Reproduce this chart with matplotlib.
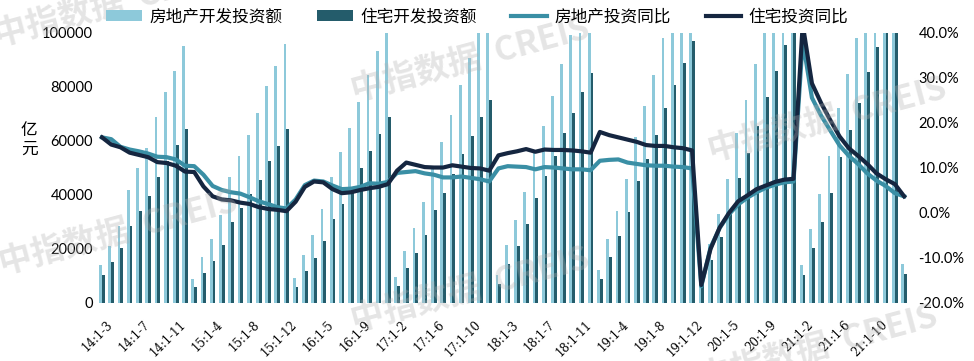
import numpy as np
import matplotlib.pyplot as plt
import matplotlib.transforms as mtransforms
from matplotlib.ticker import FuncFormatter

# periods: 14:1-3 ... 22:1-2 (Jan-Feb reported together)
periods = ['14:1-%d' % m for m in range(3, 13)]
for yr in range(15, 22):
    periods += ['%d:1-%d' % (yr, m) for m in range(2, 13)]
periods += ['22:1-2']

# 房地产开发投资额 (亿元), cumulative
re_inv = [14210, 21006, 28339, 42019, 50054, 57454, 68751, 78019, 86013, 95036,
          8786, 16914, 23669, 32632, 46489, 54370, 62204, 70535, 80354, 87702, 95979,
          9194, 17677, 25186, 34976, 46631, 55931, 64870, 74598, 84535, 93387, 102581,
          9478, 19292, 27732, 37485, 50610, 59761, 69694, 80644, 90544, 100387, 109799,
          10357, 21292, 30592, 40957, 55531, 65489, 76519, 88454, 99325, 110083, 120264,
          12090, 23803, 34217, 46075, 61609, 72843, 84589, 98008, 109603, 121265, 132194,
          10115, 21963, 33103, 45920, 62780, 75325, 88454, 103484, 116556, 129492, 141443,
          13986, 27576, 40240, 54318, 72179, 84895, 98060, 112568, 124934, 137086, 147602,
          14499]

# 住宅开发投资额 (亿元)
res_inv = [10300, 15000, 20500, 28567, 33885, 39500, 46577, 52658, 58400, 64352,
           5874, 11170, 15565, 21306, 30038, 35130, 40202, 45539, 52500, 58000, 64595,
           6000, 11700, 16600, 22900, 31008, 36800, 43100, 50000, 56300, 62600, 68704,
           6400, 12800, 18600, 25300, 34300, 40706, 47700, 55200, 61900, 68900, 75148,
           7100, 14600, 21100, 29200, 39000, 47000, 54400, 63000, 70400, 78100, 85192,
           8700, 17100, 24900, 33800, 45167, 53492, 62200, 72200, 80700, 89000, 97071,
           7318, 16000, 24300, 34010, 46350, 55606, 65454, 76359, 86000, 95619, 104446,
           10200, 20500, 30100, 40900, 54244, 64105, 74179, 85410, 94889, 104232, 111173,
           10600]

# 房地产投资同比 (%)
re_yoy = [16.8, 16.4, 14.7, 14.1, 13.7, 13.2, 12.5, 12.4, 11.9, 10.5,
          10.4, 8.5, 6.0, 5.1, 4.6, 4.3, 3.5, 2.6, 2.0, 1.3, 1.0,
          3.0, 6.2, 7.2, 7.0, 6.1, 5.3, 5.4, 5.8, 6.6, 6.5, 6.9,
          8.9, 9.1, 9.3, 8.8, 8.5, 7.9, 7.9, 8.1, 7.8, 7.5, 7.0,
          9.9, 10.4, 10.3, 10.2, 9.7, 10.2, 10.1, 9.9, 9.7, 9.7, 9.5,
          11.6, 11.8, 11.9, 11.2, 10.9, 10.6, 10.5, 10.5, 10.3, 10.2, 9.9,
          -16.3, -7.7, -3.3, -0.3, 1.9, 3.4, 4.6, 5.6, 6.3, 6.8, 7.0,
          38.3, 25.6, 21.6, 18.3, 15.0, 12.7, 10.9, 8.8, 7.2, 6.0, 4.4,
          3.7]

# 住宅投资同比 (%)
res_yoy = [16.8, 15.2, 14.6, 13.4, 12.9, 12.4, 11.3, 11.1, 10.5, 9.2,
           9.1, 5.9, 3.7, 3.0, 2.8, 2.3, 2.0, 1.3, 0.9, 0.7, 0.4,
           2.5, 5.8, 7.0, 6.8, 5.3, 4.4, 4.6, 5.1, 5.5, 5.8, 6.4,
           9.4, 11.2, 10.7, 10.2, 10.1, 10.1, 10.6, 10.3, 10.0, 9.9, 9.4,
           12.8, 13.3, 13.7, 14.2, 13.6, 14.1, 14.0, 14.0, 13.9, 13.7, 13.4,
           18.0, 17.3, 16.8, 16.3, 15.8, 15.1, 14.9, 14.9, 14.6, 14.4, 13.9,
           -16.0, -8.0, -3.2, 0.0, 2.6, 3.9, 5.3, 6.1, 6.9, 7.4, 7.6,
           41.9, 28.8, 24.4, 20.6, 17.0, 14.4, 12.7, 10.9, 8.8, 7.5, 6.4,
           3.7]

legend_names = ['房地产开发投资额', '住宅开发投资额', '房地产投资同比', '住宅投资同比']

c_light = '#8DC9DA'
c_dark = '#245C6B'
c_teal = '#3A8FA5'
c_navy = '#152640'
cjk = ['Noto Sans CJK SC', 'DejaVu Sans']

fig = plt.figure(figsize=(9.74, 3.61), dpi=100)
ax = fig.add_axes([0.100, 0.1607, 0.833, 0.748])
ax2 = ax.twinx()

x = np.arange(len(periods))
w = 0.3
b1 = ax.bar(x - w / 2, re_inv, w, color=c_light, label=legend_names[0])
b2 = ax.bar(x + w / 2, res_inv, w, color=c_dark, label=legend_names[1])

l1, = ax2.plot(x, re_yoy, color=c_teal, lw=3, solid_joinstyle='round', label=legend_names[2])
l2, = ax2.plot(x, res_yoy, color=c_navy, lw=3, solid_joinstyle='round', label=legend_names[3])

ax.set_xlim(-0.5, len(periods) - 0.5)
ax.set_ylim(0, 100000)
ax.set_yticks(range(0, 100001, 20000))
ax2.set_ylim(-20, 40)
ax2.set_yticks(range(-20, 41, 10))
ax2.yaxis.set_major_formatter(FuncFormatter(lambda v, p: '%.1f%%' % v))

for a in (ax, ax2):
    for s in a.spines.values():
        s.set_visible(False)
ax.tick_params(axis='y', length=0, pad=3, labelsize=10.5)
ax2.tick_params(axis='y', length=0, pad=7, labelsize=10.5)
for lab in ax.get_yticklabels() + ax2.get_yticklabels():
    lab.set_family('Lato')

ax.set_xticks(x[::4])
ax.set_xticklabels(periods[::4], rotation=45, ha='right', va='top',
                   rotation_mode='anchor', family='DejaVu Serif', fontsize=8.5)
ax.tick_params(axis='x', length=0, pad=11)
shift = mtransforms.ScaledTranslation(4 / 100, 0, fig.dpi_scale_trans)
for lab in ax.get_xticklabels():
    lab.set_transform(lab.get_transform() + shift)

fig.text(29 / 974, 0.612, '亿\n元', ha='center', va='center', fontsize=12,
         family=cjk, linespacing=1.1)

fig.legend([b1, b2, l1, l2], legend_names, loc='center', bbox_to_anchor=(0.49, 0.953),
           ncol=4, frameon=False, prop={'family': cjk, 'size': 12},
           handlelength=2.15, handletextpad=0.42, columnspacing=2.1)

# watermark
for cx, cy in [(113, 5), (470, 60), (827, 120), (118, 233), (470, 290), (818, 348)]:
    fig.text(cx / 974, 1 - cy / 361, '中指数据  CREIS', ha='center', va='center',
             rotation=15, rotation_mode='anchor', fontsize=24, fontweight='bold',
             family=cjk, color='#b0b0b0', alpha=0.33)

plt.savefig('out.png', dpi=100)
